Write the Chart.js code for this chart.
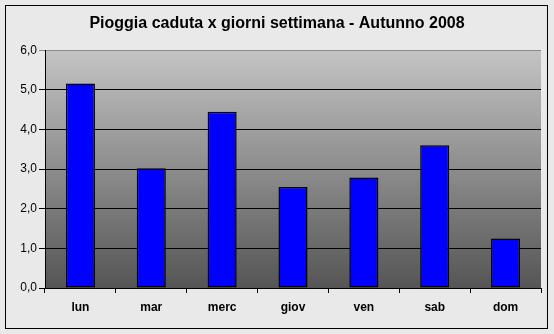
<!DOCTYPE html>
<html>
<head>
<meta charset="utf-8">
<script src="https://cdn.jsdelivr.net/npm/chart.js@4/dist/chart.umd.min.js"></script>
<style>
  html, body { margin: 0; padding: 0; background: #e9e9e9; }
  #wrap { width: 554px; height: 334px; }
</style>
</head>
<body>
<div id="wrap"><canvas id="barChart" width="554" height="334"></canvas></div>
<script>
var giorni = ['lun', 'mar', 'merc', 'giov', 'ven', 'sab', 'dom'];
var pioggia = [5.16, 3.02, 4.45, 2.55, 2.79, 3.60, 1.25];
var titolo = 'Pioggia caduta x giorni settimana - Autunno 2008';
var yMin = 0, yMax = 6, yStep = 1;

// sfondo, cornice e riempimento sfumato dell'area del grafico
var sfondo = {
  id: 'sfondo',
  beforeDraw: function (chart) {
    var ctx = chart.ctx, a = chart.chartArea;
    ctx.save();
    ctx.fillStyle = '#e9e9e9';
    ctx.fillRect(0, 0, chart.width, chart.height);
    ctx.strokeStyle = '#000';
    ctx.lineWidth = 1;
    ctx.strokeRect(5.5, 5.5, 542, 323);
    var g = ctx.createLinearGradient(0, a.top, 0, a.bottom);
    g.addColorStop(0, '#c4c4c4');
    g.addColorStop(1, '#555555');
    ctx.fillStyle = g;
    ctx.fillRect(a.left, a.top, a.right - a.left, a.bottom - a.top);
    ctx.restore();
  }
};

var barData = {
  labels: giorni,
  datasets: [{
    data: pioggia,
    backgroundColor: '#0000ff',
    borderColor: '#000',
    borderWidth: 1.5,
    borderSkipped: false,
    barPercentage: 0.41,
    categoryPercentage: 1
  }]
};

var barConfig = {
  type: 'bar',
  data: barData,
  plugins: [sfondo],
  options: {
    responsive: false,
    animation: false,
    layout: { padding: { left: 13, right: 13, top: 0, bottom: 0 } },
    plugins: {
      legend: { display: false },
      tooltip: { enabled: false },
      title: {
        display: true,
        text: titolo,
        color: '#000',
        font: { family: "Arial, 'Liberation Sans'", size: 16, weight: 'bold' },
        padding: { top: 14, bottom: 17 }
      }
    },
    scales: {
      x: {
        afterFit: function (s) { s.height = 46; },
        grid: {
          offset: true,
          drawOnChartArea: false,
          color: '#000',
          tickLength: 5
        },
        border: { color: '#000', width: 1 },
        ticks: {
          color: '#000',
          padding: 7,
          font: { family: "Arial, 'Liberation Sans'", size: 12, weight: 'bold' }
        }
      },
      y: {
        min: yMin,
        max: yMax,
        afterFit: function (s) { s.width = 32; },
        grid: {
          color: function (c) { return c.tick && c.tick.value === yMax ? '#8a8a8a' : '#000'; },
          tickLength: 6
        },
        border: { color: '#000', width: 1 },
        ticks: {
          stepSize: yStep,
          color: '#000',
          padding: 2,
          font: { family: "Arial, 'Liberation Sans'", size: 12 },
          callback: function (v) { return v.toFixed(1).replace('.', ','); }
        }
      }
    }
  }
};

var barChart = new Chart(document.getElementById('barChart'), barConfig);
</script>
</body>
</html>
